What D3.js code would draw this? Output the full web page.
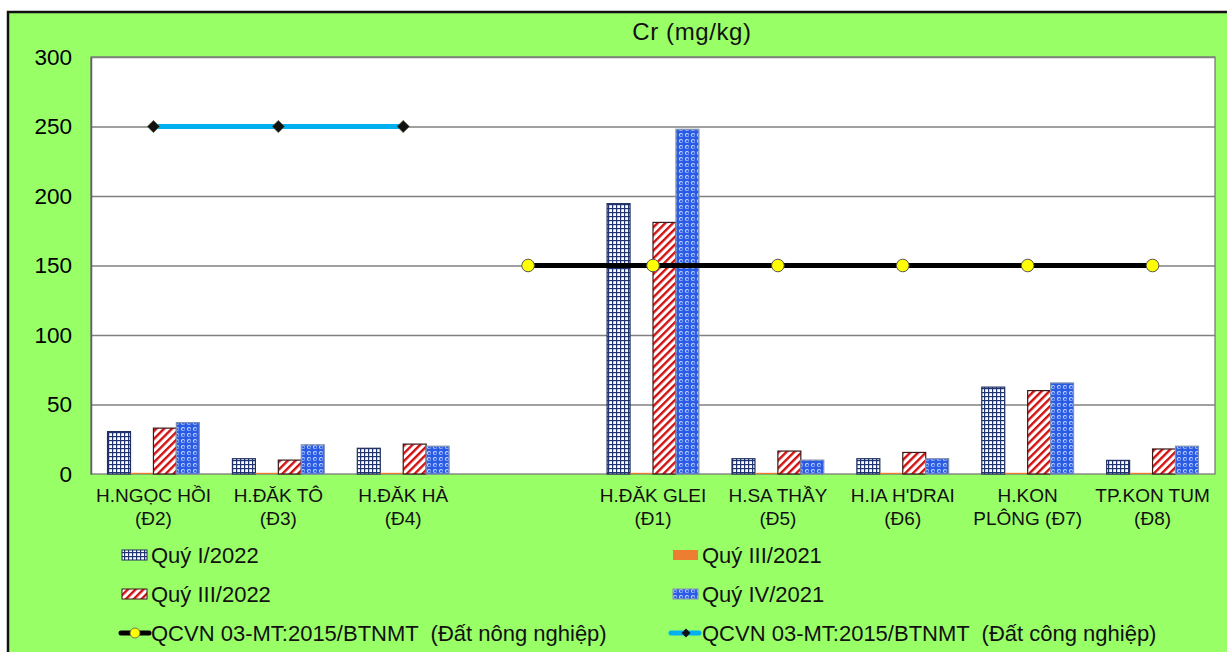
<!DOCTYPE html>
<html>
<head>
<meta charset="utf-8">
<script src="https://cdn.jsdelivr.net/npm/d3@7"></script>
<style>
    body { margin: 0; background: #fff; }
    svg { display: block; font-family: Arial, "Liberation Sans", sans-serif; }
    text { white-space: pre; }
</style>
</head>
<body>
<svg id="chart" width="1227" height="652"></svg>
<script>
// categories (the empty one is the gap between the two groups of districts)
const categories = [
    ["H.NGỌC HỒI", "(Đ2)"],
    ["H.ĐĂK TÔ", "(Đ3)"],
    ["H.ĐĂK HÀ", "(Đ4)"],
    ["", ""],
    ["H.ĐĂK GLEI", "(Đ1)"],
    ["H.SA THẦY", "(Đ5)"],
    ["H.IA H'DRAI", "(Đ6)"],
    ["H.KON", "PLÔNG (Đ7)"],
    ["TP.KON TUM", "(Đ8)"]
];

// bar series
const q1_2022 = [30.5, 11, 18.5, null, 194.5, 11, 11, 62.5, 9.8];
const q3_2021 = [0, 0, 0, null, 0, 0, 0, 0, 0];
const q3_2022 = [33, 10, 21.5, null, 181, 16.5, 15.5, 60, 18];
const q4_2021 = [37, 21, 20, null, 248, 10, 11, 65.5, 20];

// limit lines
const qcvnCongNghiep = [250, 250, 250, null, null, null, null, null, null];
const qcvnNongNghiep = [null, null, null, 150, 150, 150, 150, 150, 150];

const yTicks = [0, 50, 100, 150, 200, 250, 300];

const barSeries = [
    {name: "Quý I/2022", values: q1_2022, fill: "url(#pGrid)", stroke: "#1F2F5F"},
    {name: "Quý III/2021", values: q3_2021, fill: "#ED7D31", stroke: "#F4B183"},
    {name: "Quý III/2022", values: q3_2022, fill: "url(#pDiag)", stroke: "#3a1a1a"},
    {name: "Quý IV/2021", values: q4_2021, fill: "url(#pDots)", stroke: "#8090b0"}
];

const plot = {left: 91, right: 1215, top: 57, bottom: 474};

const svg = d3.select("#chart");
const defs = svg.append("defs");

// small grid pattern
const pg = defs.append("pattern").attr("id", "pGrid")
    .attr("patternUnits", "userSpaceOnUse").attr("width", 4).attr("height", 4);
pg.append("rect").attr("width", 4).attr("height", 4).attr("fill", "#fff");
pg.append("rect").attr("width", 4).attr("height", 1.2).attr("fill", "#1F3470");
pg.append("rect").attr("width", 1.2).attr("height", 4).attr("fill", "#1F3470");

// wide upward diagonal
const pd = defs.append("pattern").attr("id", "pDiag")
    .attr("patternUnits", "userSpaceOnUse").attr("width", 5.5).attr("height", 5.5)
    .attr("patternTransform", "rotate(45)");
pd.append("rect").attr("width", 5.5).attr("height", 5.5).attr("fill", "#fff");
pd.append("rect").attr("width", 2.4).attr("height", 5.5).attr("fill", "#D01010");

// sphere pattern
const pdt = defs.append("pattern").attr("id", "pDots")
    .attr("patternUnits", "userSpaceOnUse").attr("width", 6).attr("height", 6);
pdt.append("rect").attr("width", 6).attr("height", 6).attr("fill", "#2A5BE6");
pdt.append("circle").attr("cx", 3).attr("cy", 3).attr("r", 2.1).attr("fill", "#c8d8fc");
pdt.append("circle").attr("cx", 3.3).attr("cy", 3.3).attr("r", 1.3).attr("fill", "#2F62E8");

// outer chart box
svg.append("rect")
    .attr("x", 8).attr("y", 12).attr("width", 1240).attr("height", 660)
    .attr("fill", "#99FF66").attr("stroke", "#111").attr("stroke-width", 2.5);

// plot area
svg.append("rect")
    .attr("x", plot.left).attr("y", plot.top)
    .attr("width", plot.right - plot.left).attr("height", plot.bottom - plot.top)
    .attr("fill", "#fff").attr("stroke", "#707070").attr("stroke-width", 1.2);

const x = d3.scaleBand()
    .domain(d3.range(categories.length))
    .range([plot.left, plot.right])
    .paddingInner(0.265)
    .paddingOuter(0.1325);

const xs = d3.scaleBand()
    .domain(d3.range(barSeries.length))
    .range([0, x.bandwidth()]);

const y = d3.scaleLinear()
    .domain([0, 300])
    .range([plot.bottom, plot.top]);

// gridlines
svg.append("g")
    .attr("transform", `translate(${plot.left},0)`)
    .call(d3.axisLeft(y).tickValues(yTicks.slice(1)).tickSize(-(plot.right - plot.left)).tickFormat(""))
    .call(g => g.select(".domain").remove())
    .call(g => g.selectAll("line").attr("stroke", "#808080").attr("stroke-width", 1.5));

// y axis
svg.append("g")
    .attr("transform", `translate(${plot.left},0)`)
    .call(d3.axisLeft(y).tickValues(yTicks).tickSize(0).tickPadding(19).tickSizeOuter(0))
    .call(g => g.select(".domain").attr("stroke", "#606060").attr("stroke-width", 1.5))
    .call(g => g.selectAll("text")
        .attr("font-size", "22.5px").attr("fill", "#000")
        .attr("font-family", "Arial, 'Liberation Sans', sans-serif"));

// bars
barSeries.forEach((s, si) => {
    svg.append("g")
        .selectAll("rect")
        .data(s.values.map((v, i) => ({v, i})).filter(d => d.v != null))
        .enter()
        .append("rect")
        .attr("x", d => x(d.i) + xs(si))
        .attr("width", xs.bandwidth())
        .attr("y", d => d.v > 0 ? y(d.v) : y(0) - 1.2)
        .attr("height", d => d.v > 0 ? y(0) - y(d.v) : 1.2)
        .attr("fill", s.fill)
        .attr("stroke", d => d.v > 0 ? s.stroke : "none")
        .attr("stroke-width", 1.2);
});

const cx = i => x(i) + x.bandwidth() / 2;

const line = d3.line()
    .defined(d => d != null)
    .x((d, i) => cx(i))
    .y(d => y(d));

// industrial limit (cyan, diamonds)
svg.append("path")
    .datum(qcvnCongNghiep)
    .attr("fill", "none").attr("stroke", "#00B0F0").attr("stroke-width", 5)
    .attr("d", line);

const diamond = d3.symbol().type(d3.symbolDiamond2).size(95);

svg.append("g").selectAll("path")
    .data(qcvnCongNghiep.map((v, i) => ({v, i})).filter(d => d.v != null))
    .enter().append("path")
    .attr("d", diamond)
    .attr("transform", d => `translate(${cx(d.i)},${y(d.v)})`)
    .attr("fill", "#111").attr("stroke", "#4a5a3a").attr("stroke-width", 0.8);

// agricultural limit (black, yellow circles)
svg.append("path")
    .datum(qcvnNongNghiep)
    .attr("fill", "none").attr("stroke", "#000").attr("stroke-width", 5)
    .attr("d", line);

svg.append("g").selectAll("circle")
    .data(qcvnNongNghiep.map((v, i) => ({v, i})).filter(d => d.v != null))
    .enter().append("circle")
    .attr("cx", d => cx(d.i)).attr("cy", d => y(d.v)).attr("r", 6.3)
    .attr("fill", "#FFFF00").attr("stroke", "#555").attr("stroke-width", 1);

// category labels
const lab = svg.append("g").selectAll("text")
    .data(categories)
    .enter().append("text")
    .attr("text-anchor", "middle")
    .attr("font-size", "19px")
    .attr("fill", "#111");
lab.append("tspan").attr("x", (d, i) => cx(i)).attr("y", 502).text(d => d[0]);
lab.append("tspan").attr("x", (d, i) => cx(i)).attr("y", 525).text(d => d[1]);

// title
svg.append("text")
    .attr("x", 692).attr("y", 40)
    .attr("text-anchor", "middle")
    .attr("font-size", "24px")
    .attr("letter-spacing", "0.6px")
    .attr("fill", "#111")
    .text("Cr (mg/kg)");

// legend
const legendRows = [563, 602, 641];
const legendCols = [122, 673];
const legendItems = [
    {type: "bar", s: barSeries[0], col: 0, row: 0},
    {type: "bar", s: barSeries[1], col: 1, row: 0},
    {type: "bar", s: barSeries[2], col: 0, row: 1},
    {type: "bar", s: barSeries[3], col: 1, row: 1},
    {type: "agri", name: "QCVN 03-MT:2015/BTNMT  (Đất nông nghiệp)", col: 0, row: 2},
    {type: "ind", name: "QCVN 03-MT:2015/BTNMT  (Đất công nghiệp)", col: 1, row: 2}
];

legendItems.forEach(it => {
    const lx = legendCols[it.col];
    const ly = legendRows[it.row];
    const g = svg.append("g");
    if (it.type == "bar") {
        g.append("rect")
            .attr("x", lx).attr("y", ly - 13).attr("width", 25).attr("height", 10)
            .attr("fill", it.s.fill)
            .attr("stroke", it.s.name == "Quý III/2021" ? "none" : it.s.stroke)
            .attr("stroke-width", 1);
    } else if (it.type == "agri") {
        g.append("line").attr("x1", lx - 1).attr("x2", lx + 27).attr("y1", ly - 8).attr("y2", ly - 8)
            .attr("stroke", "#000").attr("stroke-width", 5).attr("stroke-linecap", "round");
        g.append("circle").attr("cx", lx + 13).attr("cy", ly - 8).attr("r", 5)
            .attr("fill", "#FFFF00").attr("stroke", "#555").attr("stroke-width", 0.8);
    } else {
        g.append("line").attr("x1", lx - 2).attr("x2", lx + 26).attr("y1", ly - 8).attr("y2", ly - 8)
            .attr("stroke", "#00B0F0").attr("stroke-width", 5).attr("stroke-linecap", "round");
        g.append("path").attr("d", d3.symbol().type(d3.symbolDiamond2).size(50))
            .attr("transform", `translate(${lx + 13},${ly - 8})`)
            .attr("fill", "#111");
    }
    g.append("text").attr("x", lx + 29).attr("y", ly)
        .attr("font-size", "22px").attr("fill", "#111")
        .text(it.type == "bar" ? it.s.name : it.name);
});
</script>
</body>
</html>
